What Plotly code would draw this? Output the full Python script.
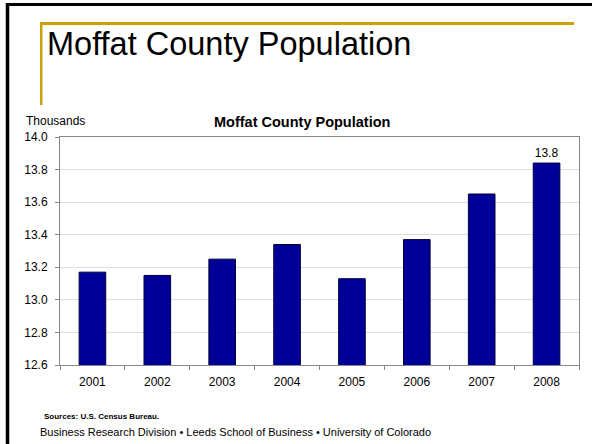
import plotly.graph_objects as go

years = ["2001", "2002", "2003", "2004", "2005", "2006", "2007", "2008"]
population = [13.17, 13.15, 13.25, 13.34, 13.13, 13.37, 13.65, 13.84]
bar_labels = ["", "", "", "", "", "", "", "13.8"]
y_ticks = [12.6, 12.8, 13.0, 13.2, 13.4, 13.6, 13.8, 14.0]

W, H = 592, 444
L, R, T, B = 60, 579, 137, 365

def px(x):
    return (x - L) / (R - L)

def py(y):
    return (B - y) / (B - T)

FONT = "Liberation Sans, Arial, sans-serif"
NARROW = "Liberation Sans Narrow, Arial Narrow, Liberation Sans, Arial, sans-serif"

fig = go.Figure(go.Bar(
    x=years, y=population,
    marker=dict(color="#000099", line=dict(color="#00003a", width=1)),
    text=bar_labels, textposition="outside", cliponaxis=False,
    textfont=dict(family=NARROW, size=12, color="#000"),
    hoverinfo="skip",
))

fig.update_layout(
    width=W, height=H,
    margin=dict(l=L, r=W - R, t=T, b=H - B, autoexpand=False),
    paper_bgcolor="white", plot_bgcolor="white",
    showlegend=False, bargap=0.59,
    font=dict(family=FONT, color="#000"),
)
fig.update_xaxes(
    type="category", showgrid=False, showline=True, linecolor="#868686", linewidth=1,
    mirror=True, ticks="outside", ticklen=4, tickcolor="#868686", tickson="boundaries",
    tickfont=dict(family=NARROW, size=12, color="#000"), ticklabelstandoff=6,
    automargin=False,
)
fig.update_yaxes(
    range=[12.6, 14.0], tickvals=y_ticks, tickformat=".1f",
    showgrid=True, gridcolor="#dedede", gridwidth=1,
    showline=True, linecolor="#868686", linewidth=1, mirror=True,
    ticks="outside", ticklen=4, tickcolor="#868686",
    tickfont=dict(family=NARROW, size=12, color="#000"), ticklabelstandoff=5,
    zeroline=False, automargin=False,
)

shapes = [
    # black frame (left and top)
    dict(type="line", xref="paper", yref="paper", x0=px(7.5), x1=px(7.5), y0=py(3), y1=py(446),
         line=dict(color="black", width=3.5)),
    dict(type="line", xref="paper", yref="paper", x0=px(6), x1=px(595), y0=py(4.5), y1=py(4.5),
         line=dict(color="black", width=3)),
    # gold accent lines
    dict(type="line", xref="paper", yref="paper", x0=px(40), x1=px(574), y0=py(23.5), y1=py(23.5),
         line=dict(color="#C8A200", width=3)),
    dict(type="line", xref="paper", yref="paper", x0=px(41.2), x1=px(41.2), y0=py(22), y1=py(105),
         line=dict(color="#C8A200", width=2.5)),
]
fig.update_layout(shapes=shapes)

annotations = [
    dict(text="Moffat County Population", x=px(45), y=py(44), xanchor="left", yanchor="middle",
         showarrow=False, xref="paper", yref="paper", font=dict(family=FONT, size=32.5, color="#000")),
    dict(text="<b>Moffat County Population</b>", x=px(302), y=py(122), xanchor="center", yanchor="middle",
         showarrow=False, xref="paper", yref="paper", font=dict(family=FONT, size=14.5, color="#000")),
    dict(text="Thousands", x=px(24), y=py(121), xanchor="left", yanchor="middle",
         showarrow=False, xref="paper", yref="paper", font=dict(family=NARROW, size=12, color="#000")),
    dict(text="<b>Sources: U.S. Census Bureau.</b>", x=px(42), y=py(416), xanchor="left", yanchor="middle",
         showarrow=False, xref="paper", yref="paper", font=dict(family=FONT, size=8, color="#000")),
    dict(text="Business Research Division \u2022 Leeds School of Business \u2022 University of Colorado",
         x=px(38), y=py(432), xanchor="left", yanchor="middle",
         showarrow=False, xref="paper", yref="paper", font=dict(family=FONT, size=11, color="#000")),
]
fig.update_layout(annotations=annotations)

fig.write_html(
    "out.html",
    config={"displayModeBar": False},
    post_script="document.body.style.margin='0';document.body.style.overflow='hidden';",
)
